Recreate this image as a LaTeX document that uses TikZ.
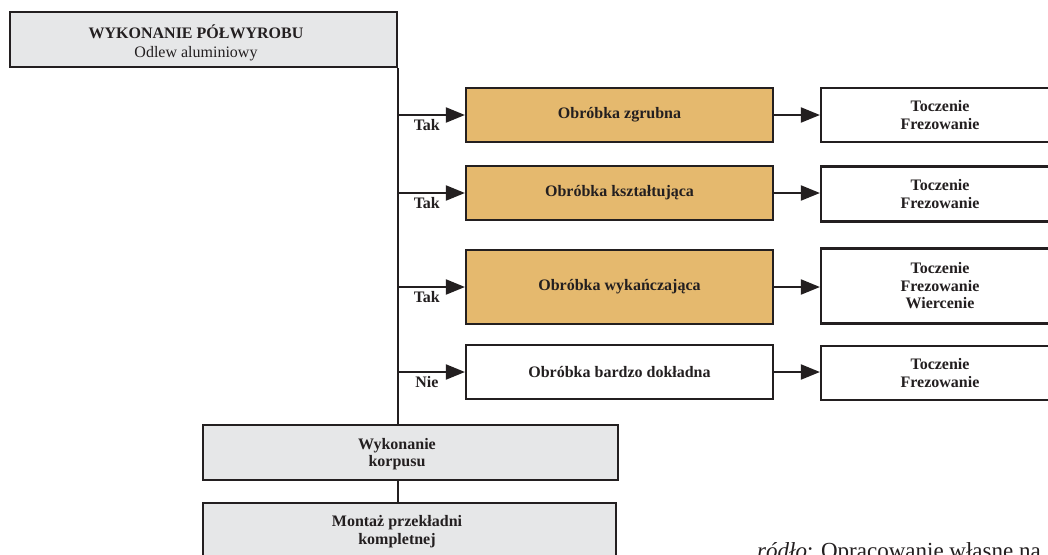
\documentclass[tikz,border=0pt]{standalone}
\usepackage{fontspec}
\setmainfont{Liberation Serif}
\usetikzlibrary{arrows.meta}
\definecolor{ink}{HTML}{231F20}
\definecolor{boxgray}{HTML}{E6E7E8}
\definecolor{boxorange}{HTML}{E5B96E}
\begin{document}
\begin{tikzpicture}[x=1pt,y=-1pt,
  box/.style={draw=ink, line width=2.2pt, inner sep=0pt, text=ink,
    font=\fontsize{16}{17.5}\selectfont\bfseries, align=center},
  graybox/.style={box, fill=boxgray},
  orangebox/.style={box, fill=boxorange, minimum width=307pt},
  whitebox/.style={box, fill=white},
  procbox/.style={box, fill=white, minimum width=238pt},
  conn/.style={draw=ink, line width=2pt},
  arr/.style={conn, -{Triangle[length=19pt,width=15pt]}},
  lbl/.style={font=\fontsize{16}{17.5}\selectfont\bfseries, inner sep=0pt, text=ink},
  inlbl/.style={lbl, align=center}]
\useasboundingbox (0,0) rectangle (1048,554);
\clip (0,0) rectangle (1048,554);
\fill[white] (0,0) rectangle (1048,554);

% top box
\node[graybox, minimum width=387pt, minimum height=55pt,
  label={[inlbl, xshift=-7.5pt, yshift=-3pt, font=\fontsize{16}{19}\selectfont]center:{\bfseries WYKONANIE PÓŁWYROBU\\\mdseries Odlew aluminiowy}}]
  (top) at (203.5,39.5) {};

% operation boxes
\node[orangebox, minimum height=54pt] (o1) at (619.5,115) {Obróbka zgrubna};
\node[orangebox, minimum height=54pt] (o2) at (619.5,193) {Obróbka kształtująca};
\node[orangebox, minimum height=74pt] (o3) at (619.5,287) {Obróbka wykańczająca};
\node[whitebox, minimum width=307pt, minimum height=54pt] (o4) at (619.5,372) {Obróbka bardzo dokładna};

% process boxes
\node[procbox, minimum height=54pt] (r1) at (940,115) {Toczenie\\Frezowanie};
\node[procbox, minimum height=55pt] (r2) at (940,194) {Toczenie\\Frezowanie};
\node[procbox, minimum height=75pt] (r3) at (940,286) {Toczenie\\Frezowanie\\Wiercenie};
\node[procbox, minimum height=54pt] (r4) at (940,373) {Toczenie\\Frezowanie};

% lower boxes
\node[graybox, minimum width=415pt, minimum height=55pt,
  label={[inlbl, xshift=-13.5pt, yshift=-1.5pt]center:{Wykonanie\\korpusu}}]
  (wyk) at (410.5,452.5) {};
\node[graybox, minimum width=413pt, minimum height=55pt,
  label={[inlbl, xshift=-12.5pt, yshift=-1pt]center:{Montaż przekładni\\kompletnej}}]
  (mon) at (409.5,530.5) {};

% trunk
\draw[conn] (top.south east) -- (wyk.north -| top.south east);
\draw[conn] (wyk.south -| top.south east) -- (mon.north -| top.south east);

% branches
\draw[arr] (o1.west -| top.south east) -- (o1.west)
  node[lbl, pos=0.43, below=3pt] (l1) {Tak};
\draw[arr] (o2.west -| top.south east) -- (o2.west)
  node[lbl, pos=0.43, below=3pt] (l2) {Tak};
\draw[arr] (o3.west -| top.south east) -- (o3.west)
  node[lbl, pos=0.43, below=3pt] (l3) {Tak};
\draw[arr] (o4.west -| top.south east) -- (o4.west)
  node[lbl, pos=0.43, below=3pt] (l4) {Nie};

\draw[arr] (o1.east) -- (r1.west |- o1.east);
\draw[arr] (o2.east) -- (r2.west |- o2.east);
\draw[arr] (o3.east) -- (r3.west |- o3.east);
\draw[arr] (o4.east) -- (r4.west |- o4.east);

% source
\node[anchor=base west, inner sep=0pt, text=ink, font=\fontsize{23}{26}\selectfont]
  (src) at (757,558.5) {\textit{ródło}: Opracowanie własne na};
\end{tikzpicture}
\end{document}
